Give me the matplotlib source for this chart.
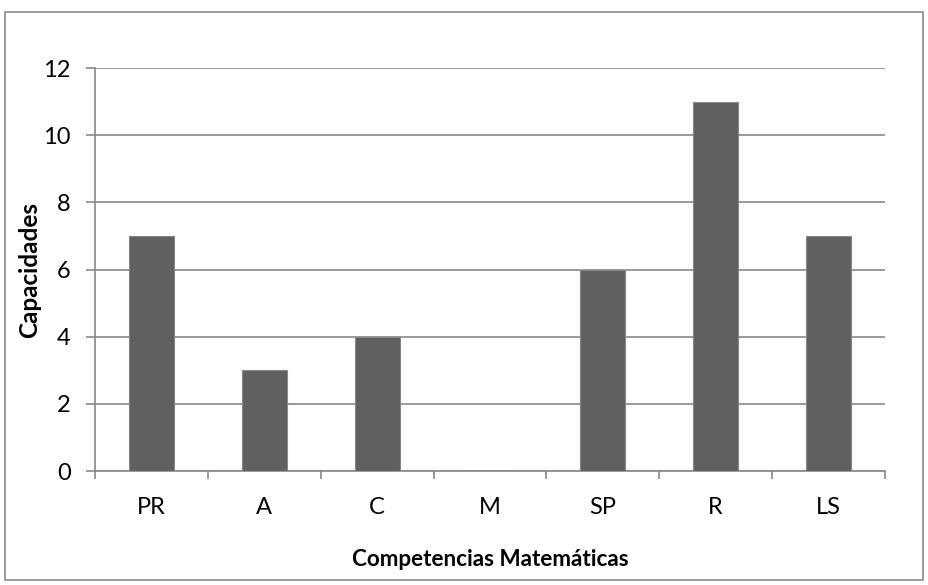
import matplotlib.pyplot as plt
from matplotlib.patches import Rectangle

plt.rcParams['font.family'] = ['Lato', 'DejaVu Sans']

# competencias y numero de capacidades
competencias = ['PR', 'A', 'C', 'M', 'SP', 'R', 'LS']
capacidades = [7, 3, 4, 0, 6, 11, 7]
yticks = [0, 2, 4, 6, 8, 10, 12]

W, H = 929, 585
fig = plt.figure(figsize=(W / 100, H / 100), dpi=100)
ax = fig.add_axes([95 / W, 1 - 471 / H, 790 / W, 403 / H])

grey = '#878787'

# marco exterior del grafico
fig.patches.append(Rectangle((5 / W, 1 - 580 / H), 918 / W, 568 / H,
                             transform=fig.transFigure, fill=False,
                             edgecolor=grey, linewidth=1.2))

x = range(len(competencias))
ax.bar(x, capacidades, width=0.4, color='#606060', edgecolor=grey,
       linewidth=0.8, zorder=3)

ax.set_xlim(-0.5, len(competencias) - 0.5)
ax.set_ylim(0, 12)
ax.set_yticks(yticks)
ax.set_xticks(list(x))
ax.set_xticklabels(competencias)
ax.set_xticks([i - 0.5 for i in range(len(competencias) + 1)], minor=True)

ax.grid(axis='y', color=grey, linewidth=1.2, zorder=0)
for s in ['top', 'right']:
    ax.spines[s].set_visible(False)
for s in ['left', 'bottom']:
    ax.spines[s].set_color(grey)
    ax.spines[s].set_linewidth(1.2)

ax.tick_params(axis='y', length=6.5, width=1.2, color=grey, pad=11,
               labelsize=17)
ax.tick_params(axis='x', which='major', length=0, pad=19, labelsize=17)
ax.tick_params(axis='x', which='minor', length=6, width=1.2, color=grey)

ax.set_ylabel('Capacidades', fontsize=17.5, fontweight='bold')
ax.set_xlabel('Competencias Matemáticas', fontsize=16.2, fontweight='bold')
ax.yaxis.set_label_coords((30 - 95) / 790, 0.5)
ax.xaxis.set_label_coords(0.5, -(560 - 471) / 403)
ax.xaxis.label.set_va('center')
ax.yaxis.label.set_va('center')

fig.savefig('out.png', dpi=100)
